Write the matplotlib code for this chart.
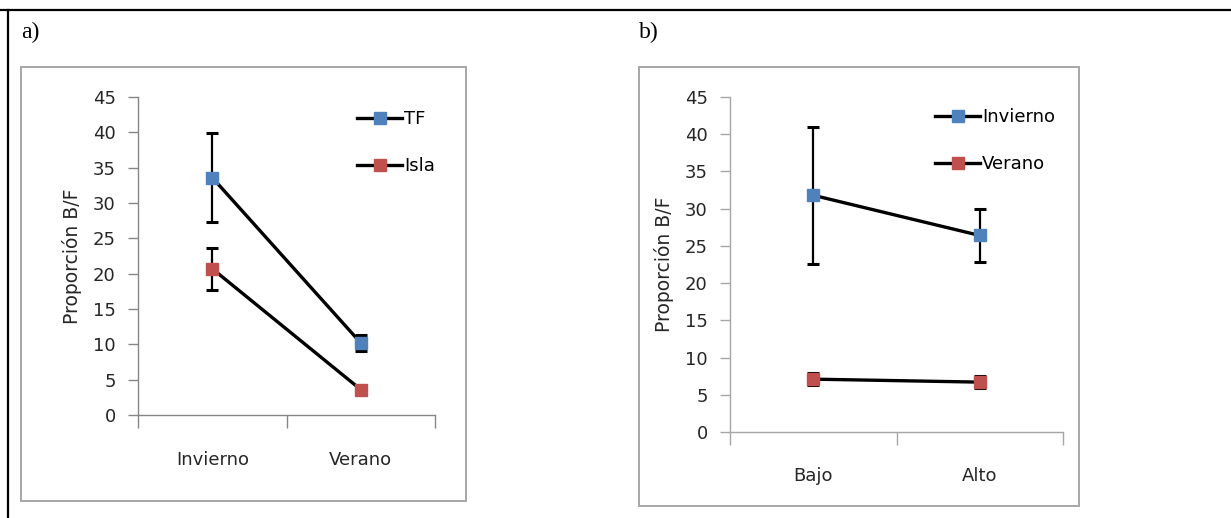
import matplotlib
matplotlib.use("Agg")
import matplotlib.pyplot as plt
from matplotlib.patches import Rectangle
from matplotlib.lines import Line2D
import numpy as np

# panel a) data
cats_a = ["Invierno", "Verano"]
tf_mean = [33.6, 10.2]
tf_err = [6.3, 1.1]
isla_mean = [20.7, 3.6]
isla_err = [3.0, 0.3]

# panel b) data
cats_b = ["Bajo", "Alto"]
inv_mean = [31.8, 26.4]
inv_err = [9.2, 3.6]
ver_mean = [7.1, 6.7]
ver_err = [0.85, 0.85]

yticks = [0, 5, 10, 15, 20, 25, 30, 35, 40, 45]

BLUE = "#4F81BD"
RED = "#C0504D"
AXIS_GREY = "#868686"
TEXT = "#262626"

plt.rcParams["font.family"] = ["DejaVu Sans"]

W, H = 1231, 518
fig = plt.figure(figsize=(W / 100, H / 100), dpi=100)


def fx(px):
    return px / W


def fy(py):
    return 1 - py / H


# outer document lines (top and left)
fig.add_artist(Line2D([0, 1], [fy(10), fy(10)], transform=fig.transFigure,
                      color="black", lw=1.6))
fig.add_artist(Line2D([fx(8), fx(8)], [fy(10), 0], transform=fig.transFigure,
                      color="black", lw=1.6))

# chart frames
for x0, y0, x1, y1 in [(21, 67, 466, 501), (639, 67, 1079, 506)]:
    fig.add_artist(Rectangle((fx(x0), fy(y1)), fx(x1 - x0), (y1 - y0) / H,
                             transform=fig.transFigure, fill=False,
                             edgecolor="#a6a6a6", lw=1.4))

fig.text(fx(21), fy(32), "a)", family="Liberation Serif", fontsize=17,
         va="center", ha="left")
fig.text(fx(639), fy(32), "b)", family="Liberation Serif", fontsize=17,
         va="center", ha="left")


def panel(rect, cats, s1, e1, s2, e2, labels, leg_xy, xlabel_pad, axis_col):
    ax = fig.add_axes(rect)
    x = np.arange(len(cats)) + 0.5
    handles = []
    for mean, err, col in [(s1, e1, BLUE), (s2, e2, RED)]:
        ax.errorbar(x, mean, yerr=err, fmt="none", ecolor="black",
                    elinewidth=1.6, capsize=4, capthick=2.2, zorder=2)
        ax.plot(x, mean, color="black", lw=2.4, marker="s", markersize=8,
                markerfacecolor=col, markeredgecolor=col, zorder=3)
        handles.append(Line2D([], [], color="black", lw=2.4, marker="s",
                              markersize=8, markerfacecolor=col,
                              markeredgecolor=col))
    ax.set_xlim(0, len(cats))
    ax.set_ylim(0, 45)
    ax.set_yticks(yticks)
    ax.set_yticklabels([str(v) for v in yticks])
    ax.set_xticks(np.arange(len(cats) + 1))
    ax.set_xticklabels([])
    ax.set_xticks(x, minor=True)
    ax.set_xticklabels(cats, minor=True)
    ax.tick_params(axis="x", which="minor", length=0, pad=xlabel_pad,
                   labelsize=13, labelcolor=TEXT)
    ax.tick_params(axis="x", which="major", length=9, width=1,
                   color=axis_col, direction="out")
    ax.tick_params(axis="y", length=7, width=1, color=axis_col,
                   direction="out", pad=9, labelsize=13, labelcolor=TEXT)
    for s in ["top", "right"]:
        ax.spines[s].set_visible(False)
    for s in ["left", "bottom"]:
        ax.spines[s].set_color(axis_col)
        ax.spines[s].set_linewidth(1)
    ax.set_ylabel("Proporción B/F", fontsize=13.5, color=TEXT, labelpad=8)
    ax.patch.set_alpha(0)
    ax.legend(handles, labels, loc="upper left", bbox_to_anchor=leg_xy,
              bbox_transform=fig.transFigure, frameon=False, fontsize=13,
              handlelength=2.5, handletextpad=0.1, labelspacing=1.6,
              borderpad=0, borderaxespad=0, numpoints=1)
    return ax


ax_a = panel([fx(138), fy(415), fx(435 - 138), (415 - 97) / H], cats_a,
             tf_mean, tf_err, isla_mean, isla_err, ["TF", "Isla"],
             (fx(357), fy(110)), 26, AXIS_GREY)
ax_b = panel([fx(730), fy(432), fx(1063 - 730), (432 - 97) / H], cats_b,
             inv_mean, inv_err, ver_mean, ver_err, ["Invierno", "Verano"],
             (fx(935), fy(108)), 25, "#a6a6a6")

fig.savefig("out.png", dpi=100)
